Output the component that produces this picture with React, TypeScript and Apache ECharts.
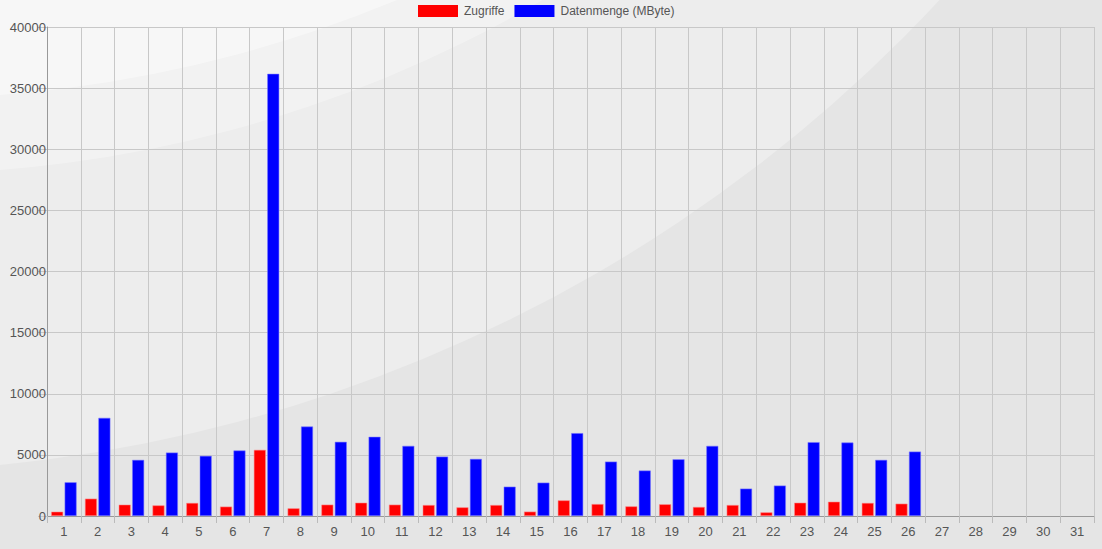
import React, { useEffect, useRef } from "react";
import * as echarts from "echarts";

const days = Array.from({ length: 31 }, (_, i) => String(i + 1));
const zugriffe: (number | null)[] = [
  355, 1420, 930, 870, 1070, 770, 5410, 630, 930, 1090, 930, 900, 710, 900, 360, 1280,
  980, 790, 960, 740, 900, 300, 1090, 1170, 1070, 1010, null, null, null, null, null,
];
const datenmenge: (number | null)[] = [
  2760, 8030, 4590, 5190, 4920, 5360, 36170, 7320, 6070, 6480, 5740, 4860, 4670, 2400, 2730,
  6780, 4450, 3720, 4640, 5740, 2240, 2490, 6040, 6010, 4590, 5270, null, null, null, null, null,
];
const seriesNames = ["Zugriffe", "Datenmenge (MByte)"];

const FONT = "'Liberation Sans', Arial, sans-serif";

export default function App() {
  const ref = useRef<HTMLDivElement>(null);
  useEffect(() => {
    if (!ref.current) return;
    const chart = echarts.init(ref.current, undefined, { renderer: "svg" });
    chart.setOption({
      animation: false,
      backgroundColor: "#e5e5e5",
      textStyle: { fontFamily: FONT },
      graphic: [
        { type: "circle", z: -100, silent: true, shape: { cx: -144, cy: -1008, r: 1480 }, style: { fill: "rgba(255,255,255,0.3)" } },
        { type: "circle", z: -99, silent: true, shape: { cx: -100, cy: -1100, r: 1274 }, style: { fill: "rgba(255,255,255,0.3)" } },
        { type: "circle", z: -98, silent: true, shape: { cx: -100, cy: -1200, r: 1299 }, style: { fill: "rgba(255,255,255,0.4)" } },
      ],
      legend: {
        top: 5,
        left: 418,
        padding: 0,
        itemWidth: 40,
        itemHeight: 12,
        itemGap: 10,
        icon: "rect",
        itemStyle: { borderWidth: 0 },
        textStyle: { color: "#555", fontSize: 12, fontFamily: FONT, padding: [0, 0, 0, 1] },
        data: seriesNames,
      },
      grid: { left: 47, right: 8, top: 27, bottom: 33, containLabel: false },
      xAxis: {
        type: "category",
        data: days,
        boundaryGap: true,
        axisLine: { lineStyle: { color: "#999" } },
        axisTick: { show: true, length: 7, lineStyle: { color: "#bbb" } },
        axisLabel: { color: "#555", fontSize: 13, margin: 9, fontFamily: FONT },
        splitLine: { show: true, lineStyle: { color: "#c8c8c8" } },
      },
      yAxis: {
        type: "value",
        min: 0,
        max: 40000,
        interval: 5000,
        axisLine: { show: true, lineStyle: { color: "#999" } },
        axisTick: { show: true, length: 9, lineStyle: { color: "#c8c8c8" } },
        axisLabel: { color: "#555", fontSize: 13, margin: 1, fontFamily: FONT, formatter: (v: number) => String(v) },
        splitLine: { show: true, lineStyle: { color: "#c8c8c8" } },
      },
      series: [
        {
          name: seriesNames[0],
          type: "bar",
          data: zugriffe,
          barWidth: 12,
          barGap: "12%",
          itemStyle: { color: "#ff0000", borderColor: "rgba(255,140,140,0.9)", borderWidth: 0.6 },
        },
        {
          name: seriesNames[1],
          type: "bar",
          data: datenmenge,
          barWidth: 12,
          itemStyle: { color: "#0000ff", borderColor: "rgba(120,120,255,0.9)", borderWidth: 0.6 },
        },
      ],
    });
    return () => chart.dispose();
  }, []);
  return <div ref={ref} style={{ width: 1102, height: 549, position: "absolute", left: 0, top: 0 }} />;
}
